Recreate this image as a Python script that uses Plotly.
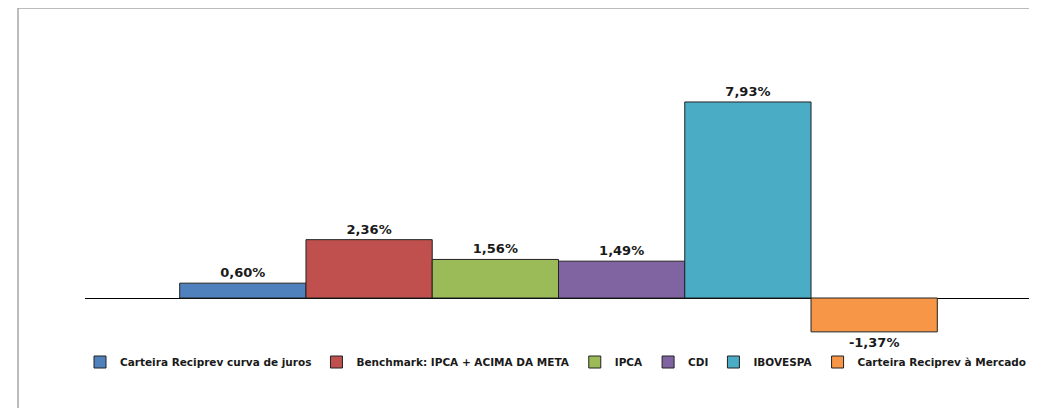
import plotly.graph_objects as go

series_names = [
    "Carteira Reciprev curva de juros",
    "Benchmark: IPCA + ACIMA DA META",
    "IPCA",
    "CDI",
    "IBOVESPA",
    "Carteira Reciprev à Mercado",
]
values = [0.60, 2.36, 1.56, 1.49, 7.93, -1.37]
labels = ["0,60%", "2,36%", "1,56%", "1,49%", "7,93%", "-1,37%"]
colors = ["#4f81bd", "#c0504d", "#9bbb59", "#8064a2", "#4bacc6", "#f79646"]

# the page body adds an 8px offset; work in figure coordinates = page - 8
OFF = 8
W, H = 1037 - OFF, 408 - OFF
L, R, T, B = 85 - OFF, 5, 50 - OFF, 63 - OFF
plot_w = W - L - R
plot_h = H - T - B
zero_y = 298 - OFF
ppu = 24.72  # pixels per unit

fig = go.Figure()
for name, v, lab, c in zip(series_names, values, labels, colors):
    fig.add_trace(go.Bar(
        x=[""], y=[v], name=name, text=[lab], textposition="outside",
        textfont=dict(family="DejaVu Sans", size=13, color="#1a1a1a", weight="bold"),
        marker=dict(color=c, line=dict(color="#222222", width=1)),
        cliponaxis=False,
    ))

ymax = (zero_y - T) / ppu
ymin = -(H - B - zero_y) / ppu

def px_x(p):
    return (p - OFF - L) / plot_w

def px_y(p):
    return (H - B - (p - OFF)) / plot_h

fig.update_layout(
    width=W, height=H,
    margin=dict(l=L, r=R, t=T, b=B, autoexpand=False),
    paper_bgcolor="white", plot_bgcolor="white",
    barmode="group", bargap=0.2, bargroupgap=0,
    showlegend=True,
    legend=dict(orientation="h", xref="container", x=(556 - OFF) / W, xanchor="center",
                yref="container", y=(H - (362 - OFF)) / H, yanchor="middle",
                font=dict(family="DejaVu Sans", size=10.5, color="#1a1a1a", weight="bold"),
                bgcolor="rgba(0,0,0,0)",
                traceorder="normal", itemwidth=30),
    font=dict(family="DejaVu Sans"),
    xaxis=dict(showticklabels=False, showgrid=False, showline=False, ticks=""),
    yaxis=dict(range=[ymin, ymax], showticklabels=False, showgrid=False,
               zeroline=True, zerolinecolor="#000000", zerolinewidth=1,
               showline=False, ticks=""),
    shapes=[dict(type="rect", xref="paper", yref="paper",
                 x0=px_x(18), x1=px_x(1033), y0=px_y(440), y1=px_y(8),
                 line=dict(color="#a6a6a6", width=1.5), fillcolor="rgba(0,0,0,0)",
                 layer="below")],
)

fig.write_html("out.html")
